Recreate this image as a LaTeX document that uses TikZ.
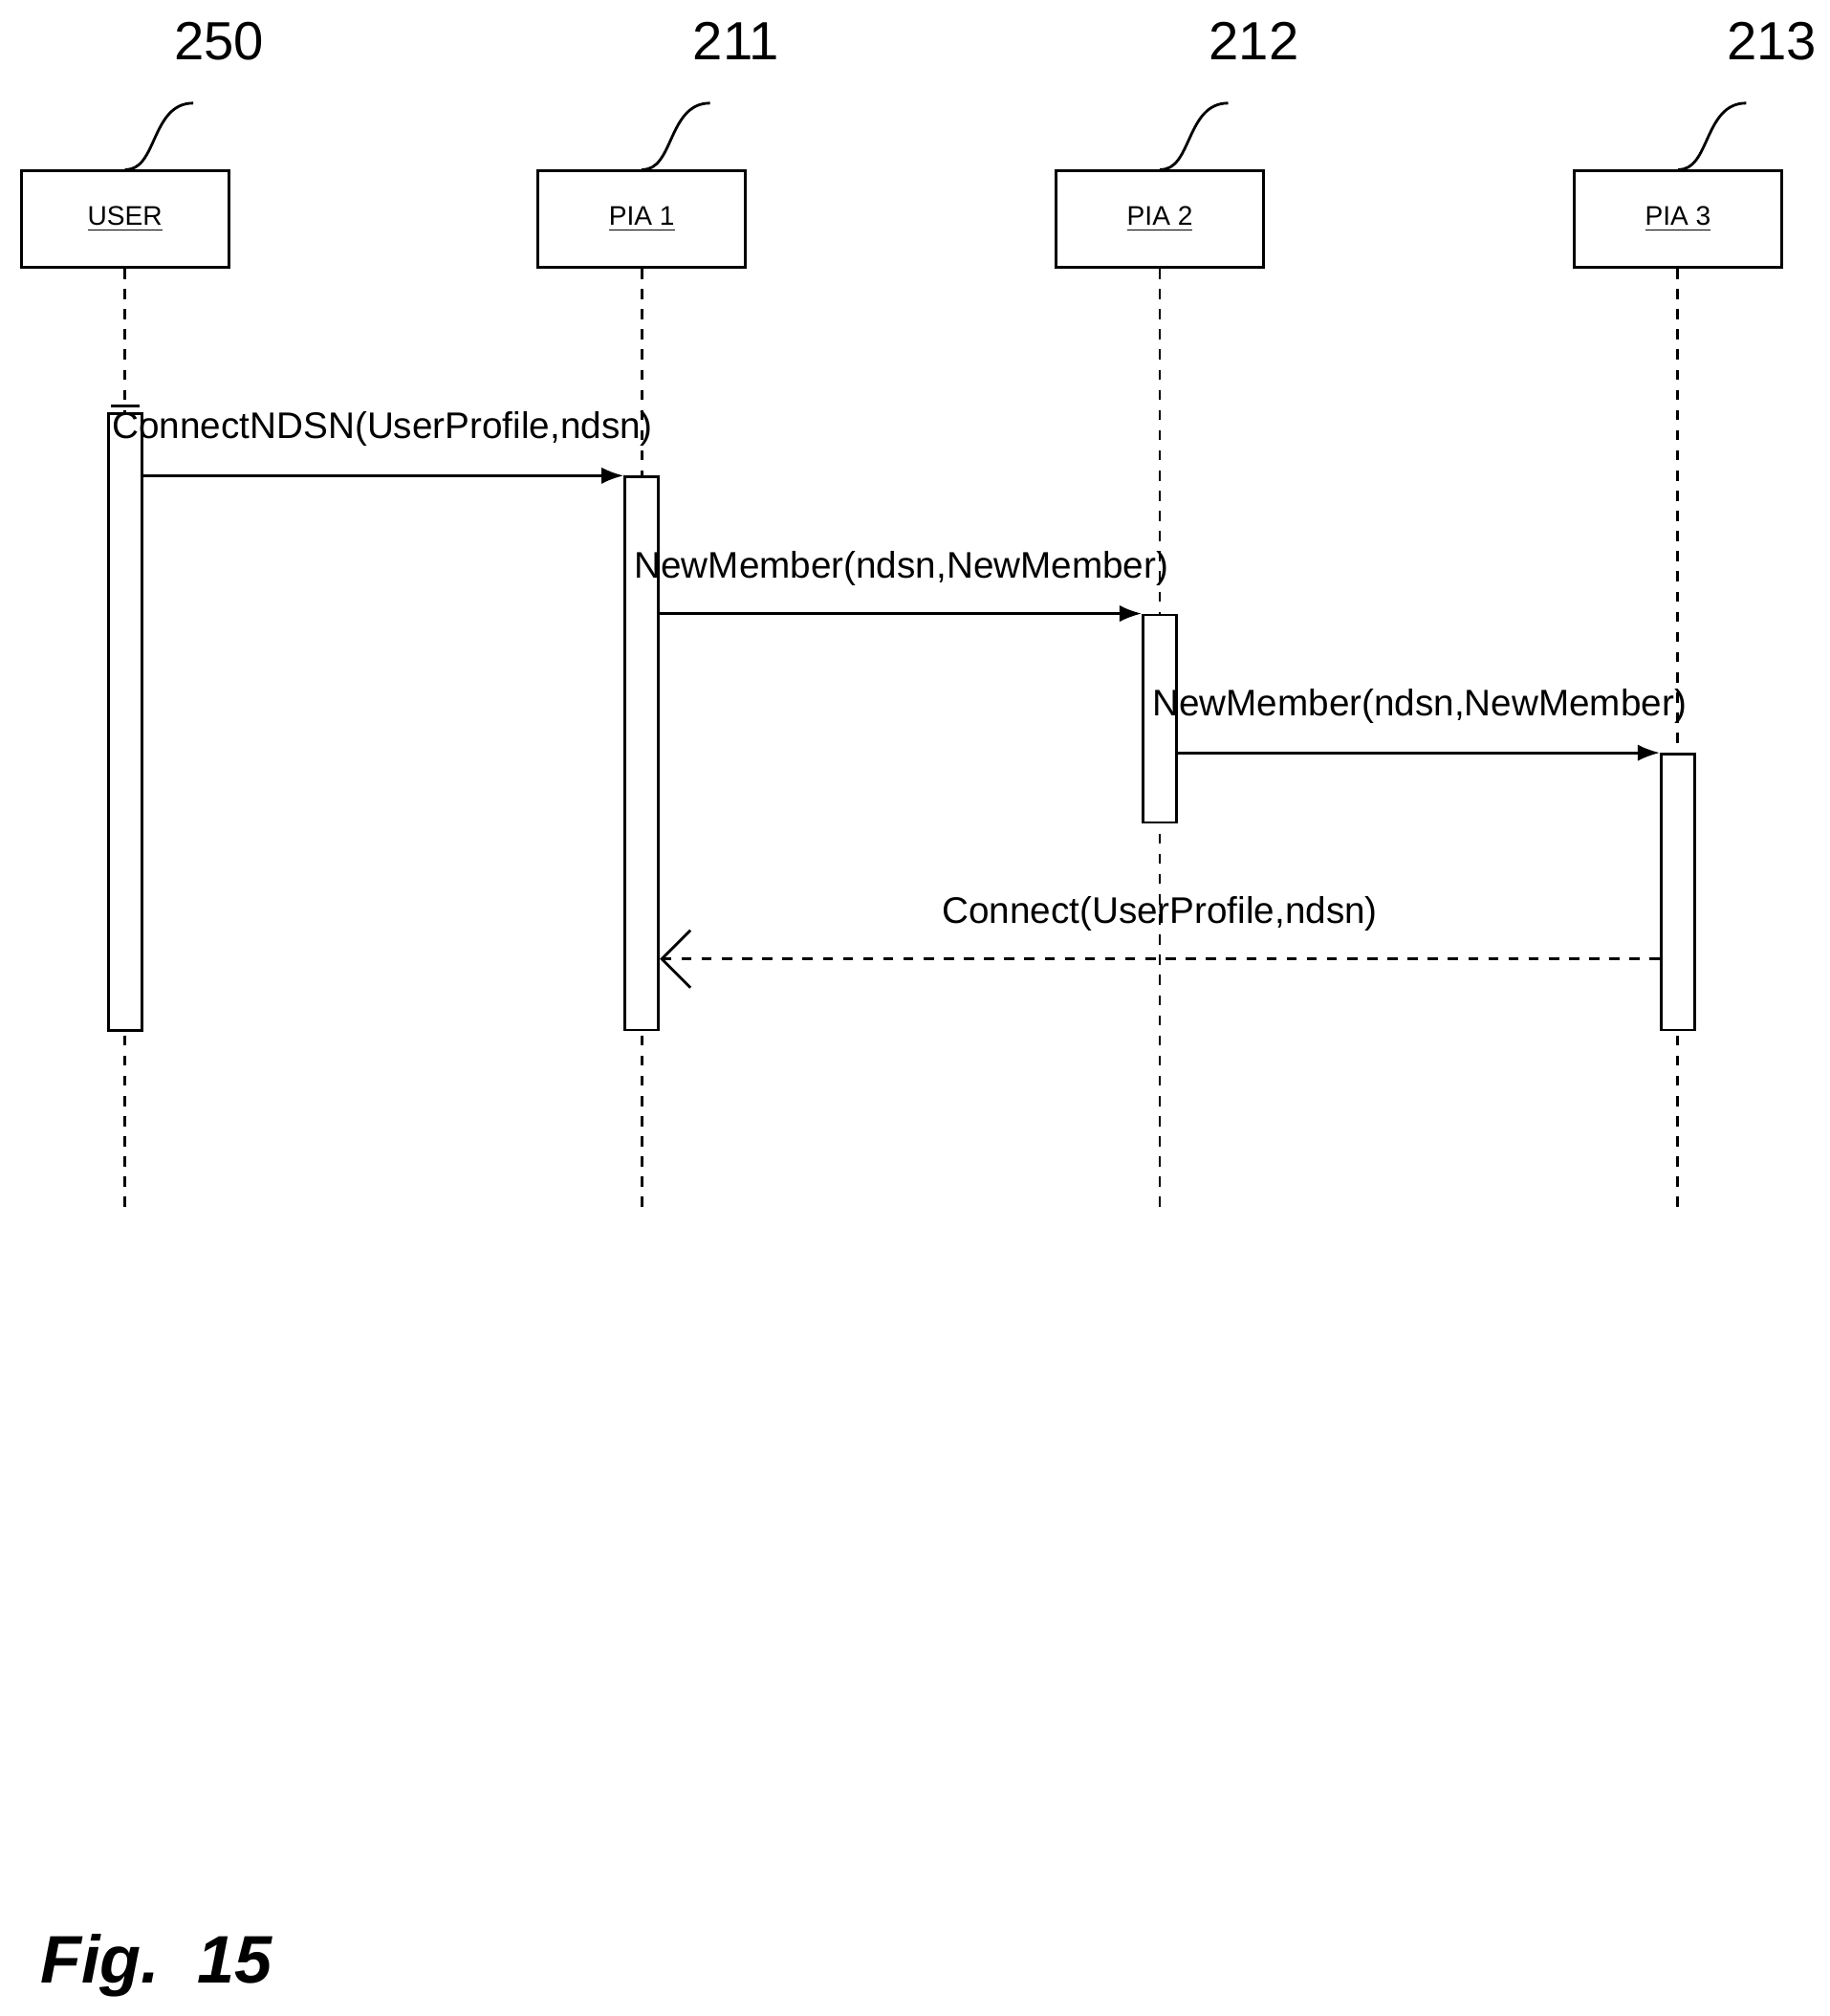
\documentclass[tikz,border=0pt]{standalone}
\usepackage{fontspec}
\setmainfont{Liberation Sans}
\usetikzlibrary{arrows.meta}
\begin{document}
\begin{tikzpicture}
		[
		x=0.01348cm, y=-0.01348cm, font=\fontsize{11}{13}\selectfont, >=Latex,
		obj/.style={draw, thick, minimum width=2.17cm, minimum height=1.01cm, font=\fontsize{8}{10}\selectfont},
		act/.style={draw, thick, fill=white, minimum width=0.35cm, inner sep=0pt},
		life/.style={dashed, thick},
		ref/.style={font=\fontsize{16}{18}\selectfont}
		]
		\useasboundingbox (0,0) rectangle (1420,1564);
		
		%Objekte mit Lebenslinien und Bezugszeichen
		\foreach \name/\x/\txt/\num in {user/97/USER/250, pia1/498/PIA 1/211, pia2/900/PIA 2/212, pia3/1302/PIA 3/213}
		{
			\node[obj] (\name) at (\x,170) {\underline{\txt}};
			\draw[life] (\name.south) -- (\x,938) coordinate (\name end);
			\draw[thick] (\name.north) .. controls (\x+25,133) and (\x+20,80) .. (\x+53,80) coordinate (\name ref);
			\node[ref] at (\x+73,32) {\num};
		}
		
		%Aktivierungsbalken
		\node[act, minimum height=0.645*0.01348cm*1000/10*10/10] at (97,559) {};
		\node[act, anchor=north, minimum height=4.78*1.348cm/1] (auser) at (97,320) {};
		\draw[thick] (86,315) -- (108,315);
		\node[act, anchor=north, minimum height=429*0.01348cm] (a1) at (498,369) {};
		\node[act, anchor=north, minimum height=161*0.01348cm] (a2) at (900,476) {};
		\node[act, anchor=north, minimum height=214*0.01348cm] (a3) at (1302,584) {};
		
		%Nachrichten
		\draw[thick, ->] (auser.east |- 0,369) -- (a1.north west) ;
		\node[anchor=west] at (78,333) {ConnectNDSN(UserProfile,ndsn)};
		\draw[thick, ->] (a1.east |- 0,476) -- (a2.north west);
		\node[anchor=west] at (483,441) {NewMember(ndsn,NewMember)};
		\draw[thick, ->] (a2.east |- 0,584) -- (a3.north west);
		\node[anchor=west] at (885,548) {NewMember(ndsn,NewMember)};
		\draw[thick, dashed, -{Straight Barb[length=3mm]}] (a3.west |- 0,744) -- (a1.east |- 0,744);
		\node at (900,709) {Connect(UserProfile,ndsn)};
		
		\node[anchor=west, font=\fontsize{20}{24}\selectfont\bfseries\itshape] at (22,1525) {Fig.\ \ 15};
\end{tikzpicture}
\end{document}
